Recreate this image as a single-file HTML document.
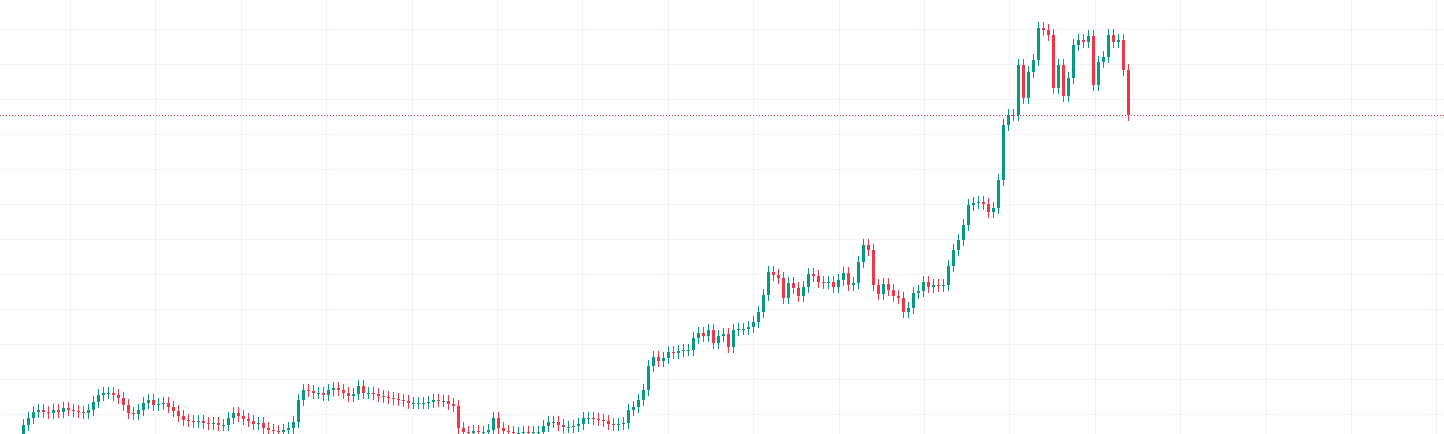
<!DOCTYPE html>
<html><head><meta charset="utf-8"><style>
html,body{margin:0;padding:0;background:#fff;}
svg{display:block;font-family:"Liberation Sans",sans-serif;}
</style></head><body>
<svg id="chart" width="1444" height="434" viewBox="0 0 1444 434" xmlns="http://www.w3.org/2000/svg">
<g id="grid"></g>
<g id="candles"></g>
<line id="lastline" x1="0" x2="1444" stroke="#f23645" stroke-width="1" stroke-dasharray="1,2"/>
</svg>
<script>
const closes = [9,16,22,24,22,21,24,22,26,24,23,22,21,24,32,39,41,41,39,36,29,21,20,24,31,34,29,30,31,27,23,18,14,13,12,13,11,10,11,9,9,16,21,18,15,13,10,11,6,4,3,2,4,6,12,34,44,43,41,41,39,44,46,44,41,38,40,48,41,41,40,38,37,36,35,34,33,31,31,31,31,32,34,33,33,30,28,6,2,1,3,2,2,4,16,6,3,2,1,1,2,1,2,2,8,12,12,9,7,7,8,10,16,16,15,14,13,10,9,10,11,24,27,34,44,68,77,73,76,82,81,83,84,84,96,101,98,104,91,98,100,87,104,105,105,107,112,122,139,162,159,156,136,151,146,138,147,160,158,152,151,152,147,154,161,149,151,172,189,184,149,140,150,144,138,136,122,126,141,143,152,147,149,148,149,168,184,194,209,229,231,232,230,222,226,254,309,319,319,369,336,362,374,406,404,399,346,369,338,356,389,394,392,398,349,372,377,399,392,394,364,319];
const firstOpen = 0;
const lastPrice = 319;
const W = 1444, H = 434;
const x0 = 22, step = 5, bodyW = 3;
function xScale(i){ return x0 + i*step; }
function yScale(p){ return H - p; }
const NS = "http://www.w3.org/2000/svg";
const grid = document.getElementById('grid');
for (let y = 29; y < H; y += 35) {
  const l = document.createElementNS(NS,'line');
  
  
  l.setAttribute('x1',0); l.setAttribute('x2',W);
  l.setAttribute('y1',y+0.5); l.setAttribute('y2',y+0.5);
  l.setAttribute('stroke','#f0f3fa');
  grid.appendChild(l);
}
for (let k = 0; k < 17; k++) {
  const x = Math.round(70 + k*85.4) + 0.5;
  const l = document.createElementNS(NS,'line');
  
  
  l.setAttribute('x1',x); l.setAttribute('x2',x);
  l.setAttribute('y1',0); l.setAttribute('y2',H);
  l.setAttribute('stroke','#f0f3fa');
  grid.appendChild(l);
}
const cg = document.getElementById('candles');
let prev = firstOpen;
closes.forEach((c,i)=>{
  const o = prev; prev = c;
  const up = c >= o;
  const col = up ? '#089981' : '#f23645';
  const x = xScale(i);
  const hi = Math.max(o,c) + 6, lo = Math.min(o,c) - 6;
  const w = document.createElementNS(NS,'line');
  
  
  w.setAttribute('x1',x+1.5); w.setAttribute('x2',x+1.5);
  w.setAttribute('y1',yScale(hi)); w.setAttribute('y2',yScale(lo));
  w.setAttribute('stroke',col); w.setAttribute('stroke-width',1);
  cg.appendChild(w);
  const r = document.createElementNS(NS,'rect');
  
  
  const yt = yScale(Math.max(o,c));
  r.setAttribute('x',x); r.setAttribute('y',yt);
  r.setAttribute('width',bodyW);
  r.setAttribute('height',Math.max(1,Math.abs(o-c)));
  r.setAttribute('fill',col);
  cg.appendChild(r);
});
const ll = document.getElementById('lastline');
ll.setAttribute('y1',yScale(lastPrice)+0.5);
ll.setAttribute('y2',yScale(lastPrice)+0.5);
</script>
</body></html>
